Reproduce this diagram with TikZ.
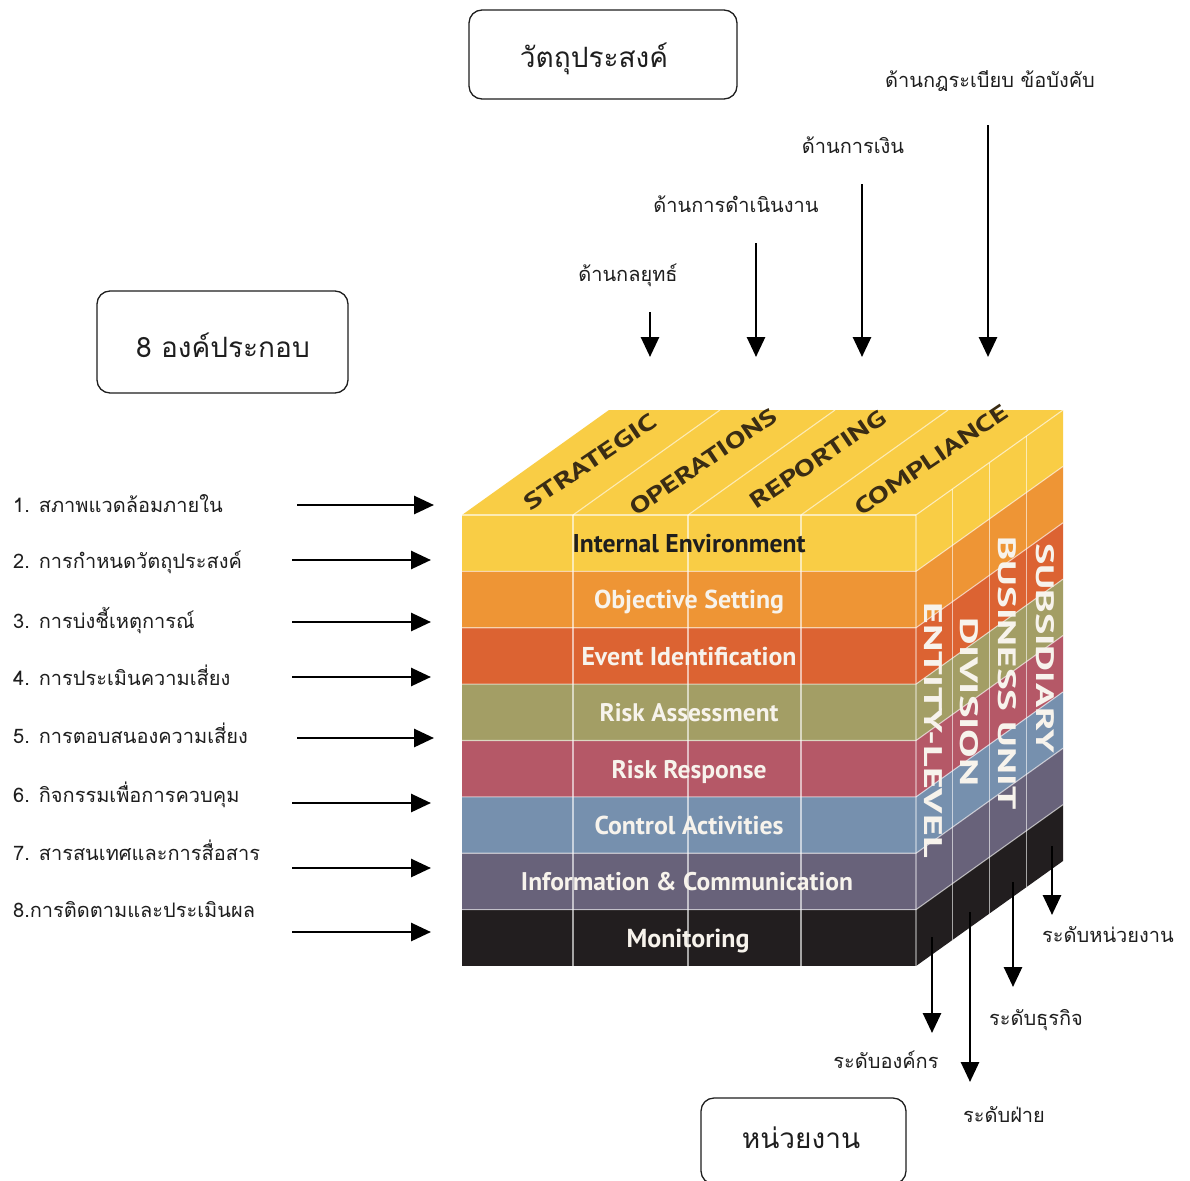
\documentclass[tikz,border=0pt]{standalone}
\usepackage{fontspec}
\usepackage{graphicx}
\newfontfamily\thai[Script=Thai]{Loma}
\newfontfamily\cubef{PT Sans}
\usetikzlibrary{arrows.meta}
\definecolor{cIE}{HTML}{F9CD45}
\definecolor{cOS}{HTML}{EE9535}
\definecolor{cEI}{HTML}{DC6332}
\definecolor{cRA}{HTML}{A39E65}
\definecolor{cRR}{HTML}{B55867}
\definecolor{cCA}{HTML}{7690AE}
\definecolor{cIC}{HTML}{68627A}
\definecolor{cMO}{HTML}{221E1F}
\definecolor{ink}{HTML}{1E1E1E}
\definecolor{topink}{HTML}{3A2C14}
\definecolor{whiteink}{HTML}{F7F3EC}
\begin{document}
\begin{tikzpicture}[x=1pt,y=-1pt,
  thaitxt/.style={font=\thai\fontsize{20}{24}\selectfont, text=ink, inner sep=0pt},
  boxtxt/.style={font=\thai\fontsize{28}{32}\selectfont, text=ink, inner sep=0pt, anchor=base},
  roundbox/.style={draw=ink, line width=1.3pt, rounded corners=13pt, inner sep=0pt},
  arr/.style={draw=black, line width=2.8pt, -{Triangle[width=18pt,length=20pt]}},
  gridln/.style={draw=white, draw opacity=0.6, line width=1.1pt},
  frontlab/.style={font=\cubef\bfseries\fontsize{25}{30}\selectfont, inner sep=0pt, anchor=base, text=whiteink},
  sidelab/.style={font=\cubef\bfseries\fontsize{25}{30}\selectfont, inner sep=0pt, rotate=-90, text=whiteink},
  toplab/.style={font=\cubef\bfseries\fontsize{25}{30}\selectfont, inner sep=0pt, rotate=34, text=topink}
]
\clip (0,0) rectangle (1190,1180);
\useasboundingbox (0,0) rectangle (1190,1180);
\fill[white] (0,0) rectangle (1190,1180);

% ---------- cube ----------
\def\lh{56.375}
\fill[cIE] (462,515) -- (609,410) -- (1063,410) -- (916,515) -- cycle;
\foreach \c [count=\i from 0] in {cIE,cOS,cEI,cRA,cRR,cCA,cIC,cMO} {
  \fill[\c] (462,{515+\i*\lh}) rectangle (916,{515+(\i+1)*\lh});
  \fill[\c] (916,{515+\i*\lh}) -- (1063,{410+\i*\lh}) -- (1063,{410+(\i+1)*\lh}) -- (916,{515+(\i+1)*\lh}) -- cycle;
}
\foreach \x in {573,688,801} {
  \draw[gridln] (\x,515) -- (\x,966);
  \draw[gridln] (\x,515) -- ++(147,-105);
}
\foreach \i in {1,...,7} {
  \draw[gridln] (462,{515+\i*\lh}) -- (916,{515+\i*\lh}) -- ++(147,-105);
}
\foreach \k in {1,2,3} {
  \draw[gridln] ({916+36.75*\k},{515-26.25*\k}) -- ++(0,451);
}
\draw[gridln] (916,966) -- (916,515) -- (1063,410);
\draw[gridln] (462,515) -- (916,515);

% front labels
\node[frontlab, text=ink] (lIE) at (689,552) {\resizebox{233pt}{!}{Internal Environment}};
\node[frontlab] (lOS) at (689,608) {\resizebox{190pt}{!}{Objective Setting}};
\node[frontlab] (lEI) at (689,665) {\resizebox{215pt}{!}{Event Identification}};
\node[frontlab] (lRA) at (689,721) {\resizebox{179pt}{!}{Risk Assessment}};
\node[frontlab] (lRR) at (689,778) {\resizebox{155pt}{!}{Risk Response}};
\node[frontlab] (lCA) at (689,834) {\resizebox{189pt}{!}{Control Activities}};
\node[frontlab] (lIC) at (687,890) {\resizebox{332pt}{!}{Information \& Communication}};
\node[frontlab] (lMO) at (688,947) {\resizebox{123pt}{!}{Monitoring}};

% top labels
\node[toplab] (tS) at (590,462) {\resizebox{154pt}{16pt}{STRATEGIC}};
\node[toplab] (tO) at (703,462) {\resizebox{172pt}{16pt}{OPERATIONS}};
\node[toplab] (tR) at (818,459) {\resizebox{158pt}{16pt}{REPORTING}};
\node[toplab] (tC) at (931,460) {\resizebox{179pt}{16pt}{COMPLIANCE}};

% side labels
\node[sidelab] (sE) at (933,730) {\resizebox{255pt}{18pt}{ENTITY-LEVEL}};
\node[sidelab] (sD) at (969,702) {\resizebox{169pt}{18pt}{DIVISION}};
\node[sidelab] (sB) at (1007,673) {\resizebox{273pt}{18pt}{BUSINESS UNIT}};
\node[sidelab] (sS) at (1045,648) {\resizebox{210pt}{18pt}{SUBSIDIARY}};

% ---------- boxes ----------
\node[roundbox, minimum width=268pt, minimum height=89pt] (objbox) at (603,54.5) {};
\node[boxtxt] (objtxt) at (594,68) {วัตถุประสงค์};
\node[roundbox, minimum width=251pt, minimum height=102pt] (compbox) at (222.5,342) {};
\node[boxtxt] (comptxt) at (223,357) {8 องค์ประกอบ};
\node[roundbox, minimum width=205pt, minimum height=86pt] (unitbox) at (803.5,1141) {};
\node[boxtxt] (unittxt) at (801,1148) {หน่วยงาน};

% ---------- top objective labels and arrows ----------
\node[thaitxt, anchor=base] (o1) at (628,281) {ด้านกลยุทธ์};
\node[thaitxt, anchor=base] (o2) at (736,212) {ด้านการดำเนินงาน};
\node[thaitxt, anchor=base] (o3) at (853,153) {ด้านการเงิน};
\node[thaitxt, anchor=base] (o4) at (990,88) {ด้านกฎระเบียบ ข้อบังคับ};
\coordinate (oa1) at (650,312); \coordinate (ob1) at (650,357);
\coordinate (oa2) at (756,243); \coordinate (ob2) at (756,357);
\coordinate (oa3) at (862,184); \coordinate (ob3) at (862,357);
\coordinate (oa4) at (988,125); \coordinate (ob4) at (988,357);
\foreach \n in {1,2,3,4} { \draw[arr] (oa\n) -- (ob\n); }

% ---------- left component labels and arrows ----------
\node[thaitxt, anchor=base west] (c1) at (13,512) {1. สภาพแวดล้อมภายใน};
\node[thaitxt, anchor=base west] (c2) at (13,568) {2. การกำหนดวัตถุประสงค์};
\node[thaitxt, anchor=base west] (c3) at (13,628) {3. การบ่งชี้เหตุการณ์};
\node[thaitxt, anchor=base west] (c4) at (13,685) {4. การประเมินความเสี่ยง};
\node[thaitxt, anchor=base west] (c5) at (13,743) {5. การตอบสนองความเสี่ยง};
\node[thaitxt, anchor=base west] (c6) at (13,802) {6. กิจกรรมเพื่อการควบคุม};
\node[thaitxt, anchor=base west] (c7) at (13,860) {7. สารสนเทศและการสื่อสาร};
\node[thaitxt, anchor=base west] (c8) at (13,917) {8.การติดตามและประเมินผล};
\coordinate (ca1) at (297,505); \coordinate (cb1) at (434,505);
\coordinate (ca2) at (292,560); \coordinate (cb2) at (431,560);
\coordinate (ca3) at (292,622); \coordinate (cb3) at (431,622);
\coordinate (ca4) at (292,677); \coordinate (cb4) at (431,677);
\coordinate (ca5) at (297,738); \coordinate (cb5) at (434,738);
\coordinate (ca6) at (292,803); \coordinate (cb6) at (431,803);
\coordinate (ca7) at (292,868); \coordinate (cb7) at (431,868);
\coordinate (ca8) at (292,932); \coordinate (cb8) at (431,932);
\foreach \n in {1,...,8} { \draw[arr] (ca\n) -- (cb\n); }

% ---------- bottom level labels and arrows ----------
\coordinate (la1) at (932,937);  \coordinate (lb1) at (932,1033);
\coordinate (la2) at (970,912);  \coordinate (lb2) at (970,1082);
\coordinate (la3) at (1013,882); \coordinate (lb3) at (1013,987);
\coordinate (la4) at (1052,846); \coordinate (lb4) at (1052,915);
\foreach \n in {1,2,3,4} { \draw[arr] (la\n) -- (lb\n); }
\node[thaitxt, anchor=base] (v1) at (886,1068) {ระดับองค์กร};
\node[thaitxt, anchor=base] (v2) at (1004,1122) {ระดับฝ่าย};
\node[thaitxt, anchor=base] (v3) at (1036,1025) {ระดับธุรกิจ};
\node[thaitxt, anchor=base] (v4) at (1108,942) {ระดับหน่วยงาน};
\end{tikzpicture}
\end{document}
